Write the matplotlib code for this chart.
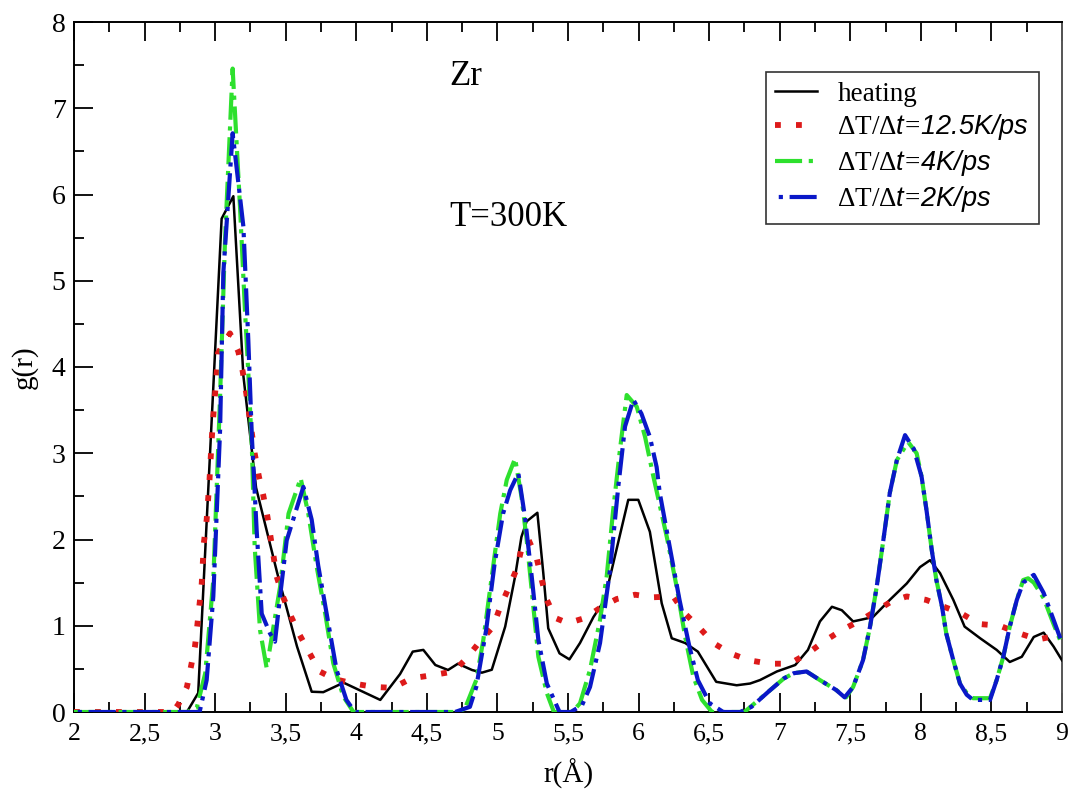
import matplotlib
matplotlib.use("Agg")
import matplotlib.pyplot as plt
from matplotlib.ticker import MultipleLocator, FixedLocator, FixedFormatter

# --- radial distribution functions of Zr at T = 300 K ---------------------
heating_r = [2.00, 2.80, 2.88, 3.046, 3.129, 3.20, 3.29, 3.44, 3.58, 3.684,
             3.766, 3.91, 4.17, 4.31, 4.40, 4.475, 4.56, 4.65, 4.72, 4.82,
             4.89, 4.96, 5.055, 5.125, 5.17, 5.207, 5.283, 5.325, 5.36, 5.44,
             5.51, 5.585, 5.68, 5.76, 5.82, 5.927, 5.998, 6.08, 6.164, 6.235,
             6.33, 6.42, 6.55, 6.695, 6.79, 6.86, 6.98, 7.11, 7.20, 7.285,
             7.37, 7.44, 7.52, 7.66, 7.78, 7.90, 7.994, 8.065, 8.136, 8.23,
             8.31, 8.42, 8.537, 8.63, 8.715, 8.80, 8.87, 8.94, 9.00]
heating_g = [0.00, 0.00, 0.22, 5.72, 5.98, 3.90, 2.60, 1.61, 0.76, 0.235,
             0.23, 0.34, 0.14, 0.44, 0.70, 0.72, 0.545, 0.487, 0.56, 0.487,
             0.456, 0.49, 0.99, 1.57, 2.03, 2.21, 2.31, 1.61, 0.97, 0.68,
             0.61, 0.80, 1.10, 1.30, 1.72, 2.46, 2.46, 2.09, 1.26, 0.855,
             0.80, 0.70, 0.35, 0.31, 0.33, 0.37, 0.47, 0.545, 0.72, 1.05,
             1.22, 1.18, 1.05, 1.10, 1.30, 1.49, 1.68, 1.76, 1.61, 1.30,
             0.99, 0.855, 0.72, 0.58, 0.64, 0.87, 0.92, 0.76, 0.60]

rate12_r = [2.00, 2.70, 2.74, 2.80, 2.857, 2.874, 2.905, 2.92, 2.94, 2.96,
            2.976, 2.99, 3.01, 3.02, 3.105, 3.164, 3.195, 3.22, 3.28, 3.31,
            3.34, 3.37, 3.436, 3.48, 3.54, 3.60, 3.67, 3.74, 3.85, 3.98,
            4.13, 4.26, 4.39, 4.55, 4.69, 4.78, 4.875, 4.97, 5.02, 5.08,
            5.137, 5.17, 5.22, 5.28, 5.314, 5.35, 5.41, 5.50, 5.62, 5.74,
            5.845, 5.975, 6.10, 6.246, 6.33, 6.435, 6.53, 6.65, 6.78, 6.93,
            7.07, 7.20, 7.31, 7.44, 7.57, 7.79, 7.90, 8.037, 8.29, 8.415,
            8.56, 8.70, 8.83, 9.00]
rate12_g = [0.00, 0.00, 0.09, 0.29, 0.76, 1.01, 1.49, 1.96, 2.23, 2.69,
            3.17, 3.50, 3.90, 4.16, 4.39, 4.18, 3.95, 3.70, 3.00, 2.73,
            2.52, 2.27, 1.57, 1.34, 1.10, 0.89, 0.68, 0.47, 0.38, 0.33,
            0.29, 0.28, 0.39, 0.43, 0.47, 0.62, 0.815, 0.99, 1.22, 1.44,
            1.66, 1.89, 2.00, 1.77, 1.53, 1.30, 1.09, 1.03, 1.09, 1.22,
            1.31, 1.36, 1.33, 1.34, 1.14, 0.97, 0.80, 0.68, 0.60, 0.56,
            0.56, 0.68, 0.815, 0.95, 1.06, 1.28, 1.34, 1.30, 1.14, 1.02,
            1.00, 0.91, 0.84, 0.90]

rate4_r = [2.00, 2.80, 2.87, 2.93, 2.987, 3.035, 3.07, 3.124, 3.176, 3.21,
           3.235, 3.26, 3.28, 3.318, 3.365, 3.46, 3.52, 3.606, 3.66, 3.72,
           3.78, 3.837, 3.908, 3.98, 4.76, 4.85, 4.90, 4.96, 5.02, 5.066,
           5.125, 5.17, 5.207, 5.243, 5.29, 5.35, 5.40, 5.53, 5.585, 5.656,
           5.727, 5.774, 5.82, 5.868, 5.916, 5.987, 6.046, 6.105, 6.20, 6.27,
           6.33, 6.388, 6.45, 6.52, 6.75, 6.93, 7.03, 7.10, 7.19, 7.285,
           7.40, 7.47, 7.52, 7.59, 7.64, 7.687, 7.734, 7.78, 7.83, 7.91,
           7.97, 8.005, 8.04, 8.077, 8.11, 8.15, 8.18, 8.23, 8.277, 8.325,
           8.37, 8.49, 8.537, 8.584, 8.63, 8.68, 8.725, 8.76, 8.80, 8.87,
           8.94, 9.00]
rate4_g = [0.00, 0.00, 0.05, 0.45, 1.53, 3.66, 5.47, 7.46, 5.86, 4.70,
           3.93, 3.08, 1.92, 0.95, 0.51, 1.45, 2.30, 2.71, 2.30, 1.68,
           1.14, 0.565, 0.18, 0.00, 0.00, 0.37, 0.835, 1.57, 2.30, 2.69,
           2.94, 2.50, 2.00, 1.41, 0.64, 0.22, 0.00, 0.00, 0.10, 0.49,
           1.07, 1.57, 2.34, 3.04, 3.675, 3.54, 3.19, 2.73, 2.03, 1.45,
           0.87, 0.41, 0.14, 0.00, 0.00, 0.25, 0.39, 0.45, 0.47, 0.37,
           0.255, 0.17, 0.29, 0.60, 0.99, 1.45, 1.99, 2.54, 2.92, 3.13,
           3.00, 2.73, 2.34, 1.88, 1.53, 1.22, 0.91, 0.60, 0.33, 0.22,
           0.16, 0.16, 0.37, 0.64, 0.99, 1.30, 1.53, 1.55, 1.50, 1.32,
           1.02, 0.78]

rate2_r = [2.00, 2.89, 2.94, 2.987, 3.035, 3.058, 3.124, 3.20, 3.235, 3.26,
           3.294, 3.33, 3.389, 3.424, 3.46, 3.507, 3.625, 3.684, 3.73, 3.79,
           3.86, 3.93, 3.99, 4.70, 4.805, 4.85, 4.92, 4.98, 5.04, 5.09,
           5.148, 5.195, 5.243, 5.29, 5.35, 5.44, 5.52, 5.60, 5.656, 5.727,
           5.798, 5.856, 5.904, 5.963, 6.02, 6.08, 6.128, 6.15, 6.22, 6.29,
           6.36, 6.42, 6.505, 6.60, 6.72, 6.80, 6.93, 7.03, 7.10, 7.19,
           7.285, 7.40, 7.46, 7.52, 7.59, 7.64, 7.687, 7.734, 7.78, 7.83,
           7.888, 7.95, 8.005, 8.04, 8.077, 8.11, 8.15, 8.18, 8.23, 8.277,
           8.325, 8.37, 8.49, 8.537, 8.584, 8.63, 8.68, 8.725, 8.80, 8.87,
           8.94, 9.00]
rate2_g = [0.00, 0.00, 0.37, 1.34, 3.27, 5.09, 6.71, 5.63, 4.31, 3.20,
           2.11, 1.14, 0.91, 0.815, 1.34, 1.99, 2.61, 2.23, 1.70, 1.14,
           0.49, 0.14, 0.00, 0.00, 0.06, 0.29, 0.95, 1.72, 2.30, 2.57,
           2.77, 2.26, 1.57, 0.835, 0.33, 0.00, 0.00, 0.08, 0.29, 0.80,
           1.65, 2.61, 3.31, 3.62, 3.46, 3.19, 2.84, 2.54, 1.92, 1.30,
           0.76, 0.37, 0.10, 0.00, 0.00, 0.06, 0.25, 0.39, 0.45, 0.47,
           0.37, 0.255, 0.17, 0.29, 0.60, 0.99, 1.45, 1.99, 2.54, 2.92,
           3.21, 3.05, 2.73, 2.34, 1.88, 1.53, 1.22, 0.91, 0.60, 0.33,
           0.20, 0.14, 0.14, 0.37, 0.64, 0.99, 1.30, 1.50, 1.59, 1.38,
           1.07, 0.80]

series_labels = [
    "heating",
    r"$\Delta\mathrm{T/}\Delta\mathsf{t}\!=\!\mathsf{12.5K/ps}$",
    r"$\Delta\mathrm{T/}\Delta\mathsf{t}\!=\!\mathsf{4K/ps}$",
    r"$\Delta\mathrm{T/}\Delta\mathsf{t}\!=\!\mathsf{2K/ps}$",
]

x_ticks = [2, 2.5, 3, 3.5, 4, 4.5, 5, 5.5, 6, 6.5, 7, 7.5, 8, 8.5, 9]
x_tick_labels = ["2", "2,5", "3", "3,5", "4", "4,5", "5", "5,5", "6",
                 "6,5", "7", "7,5", "8", "8,5", "9"]
y_ticks = [0, 1, 2, 3, 4, 5, 6, 7, 8]

# --- style ------------------------------------------------------------------
plt.rcParams["font.family"] = ["Liberation Serif", "DejaVu Serif"]
plt.rcParams["mathtext.fontset"] = "custom"
plt.rcParams["mathtext.rm"] = "Liberation Serif"
plt.rcParams["mathtext.it"] = "Liberation Sans:italic"
plt.rcParams["mathtext.sf"] = "Liberation Sans:italic"

fig = plt.figure(figsize=(10.75, 7.98), dpi=100)
ax = fig.add_axes([74 / 1075, 1 - 712 / 798, (1062 - 74) / 1075, (712 - 22) / 798])

ax.plot(heating_r, heating_g, color="black", lw=1.8, label=series_labels[0], zorder=3)
ax.plot(rate12_r, rate12_g, color="#dd1a1a", lw=4.2, linestyle=(0, (1, 2.6)),
        dash_capstyle="butt", label=series_labels[1], zorder=4)
ax.plot(rate4_r, rate4_g, color="#2ee02e", lw=3.0, linestyle=(0, (6.5, 1.6, 1, 1.6)),
        dash_capstyle="butt", label=series_labels[2], zorder=5)
ax.plot(rate2_r, rate2_g, color="#0a18c8", lw=3.0, linestyle=(7.2, (6.5, 1.6, 1, 1.6)),
        dash_capstyle="butt", label=series_labels[3], zorder=6)

ax.set_xlim(2, 9)
ax.set_ylim(0, 8)

ax.xaxis.set_major_locator(FixedLocator(x_ticks))
ax.xaxis.set_major_formatter(FixedFormatter(x_tick_labels))
ax.xaxis.set_minor_locator(MultipleLocator(0.25))
ax.yaxis.set_major_locator(FixedLocator(y_ticks))
ax.yaxis.set_minor_locator(MultipleLocator(0.5))

ax.tick_params(axis="both", which="major", direction="in", length=14, width=1.3,
               top=True, right=False)
ax.tick_params(axis="both", which="minor", direction="in", length=7, width=1.3,
               top=True, right=False)
ax.tick_params(axis="x", which="major", pad=8, labelsize=18.5)
ax.tick_params(axis="y", which="major", pad=6, labelsize=20)

for side in ("left", "bottom", "top", "right"):
    ax.spines[side].set_linewidth(1.4)
ax.spines["right"].set_color("#555555")

ax.set_xlabel("r(Å)", fontsize=21, labelpad=10)
ax.set_ylabel("g(r)", fontsize=21, labelpad=10)

ax.text(4.66, 7.37, "Zr", fontsize=25, ha="left", va="center")
ax.text(4.66, 5.73, "T=300K", fontsize=25, ha="left", va="center")

leg = ax.legend(loc="upper left", bbox_to_anchor=(0.700, 0.9275), fontsize=19.5,
                frameon=True, fancybox=False, edgecolor="#333333", framealpha=1,
                borderaxespad=0, borderpad=0.35, handlelength=1.55,
                handletextpad=0.75, labelspacing=0.22)
leg.get_frame().set_linewidth(1.2)

fig.savefig("out.png", dpi=100)
